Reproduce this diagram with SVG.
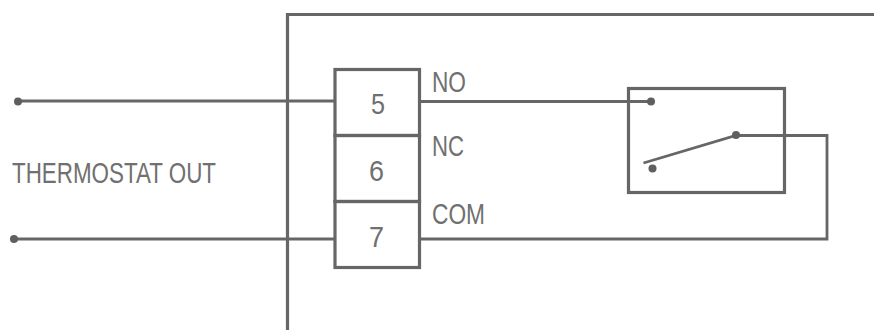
<svg xmlns="http://www.w3.org/2000/svg" width="874" height="331" viewBox="0 0 874 331">
<style>
.w{fill:none;stroke:#666;stroke-width:3.200}
.t{stroke-width:2.800}
.d{fill:#5f5f5f}
text{font-family:"Liberation Sans",Arial,sans-serif;font-size:29.500px;fill:#707070}
</style>
<rect width="874" height="331" fill="#fff"/>
<g id="enclosure"><path class="w" d="M874 14.500H287.500V330"/></g>
<g id="connectors">
<path class="w t" d="M18 101H335M419 101.500H651M14 239H335M419 239H827V135.500H736L643.500 163"/>
<circle class="d" cx="18" cy="101.500" r="4"/>
<circle class="d" cx="14" cy="239" r="4"/>
</g>
<g id="terminal-5"><rect class="w" x="335" y="69.500" width="84.500" height="66"/><text x="371" y="114" textLength="14" lengthAdjust="spacingAndGlyphs">5</text><text x="432" y="92" textLength="34" lengthAdjust="spacingAndGlyphs">NO</text></g>
<g id="terminal-6"><rect class="w" x="335" y="135.500" width="84.500" height="66"/><text x="369" y="180.500" textLength="15" lengthAdjust="spacingAndGlyphs">6</text><text x="432" y="156" textLength="32" lengthAdjust="spacingAndGlyphs">NC</text></g>
<g id="terminal-7"><rect class="w" x="335" y="201.500" width="84.500" height="66"/><text x="369" y="246.500" textLength="15" lengthAdjust="spacingAndGlyphs">7</text><text x="432" y="224" textLength="53" lengthAdjust="spacingAndGlyphs">COM</text></g>
<g id="relay"><rect class="w" x="628.500" y="88.500" width="156" height="104"/><circle class="d" cx="651" cy="101.500" r="4"/><circle class="d" cx="652.500" cy="168.500" r="4"/><circle class="d" cx="736" cy="135" r="4"/></g>
<g id="thermostat-out"><text x="12" y="183" textLength="204" lengthAdjust="spacingAndGlyphs">THERMOSTAT OUT</text></g>
</svg>
